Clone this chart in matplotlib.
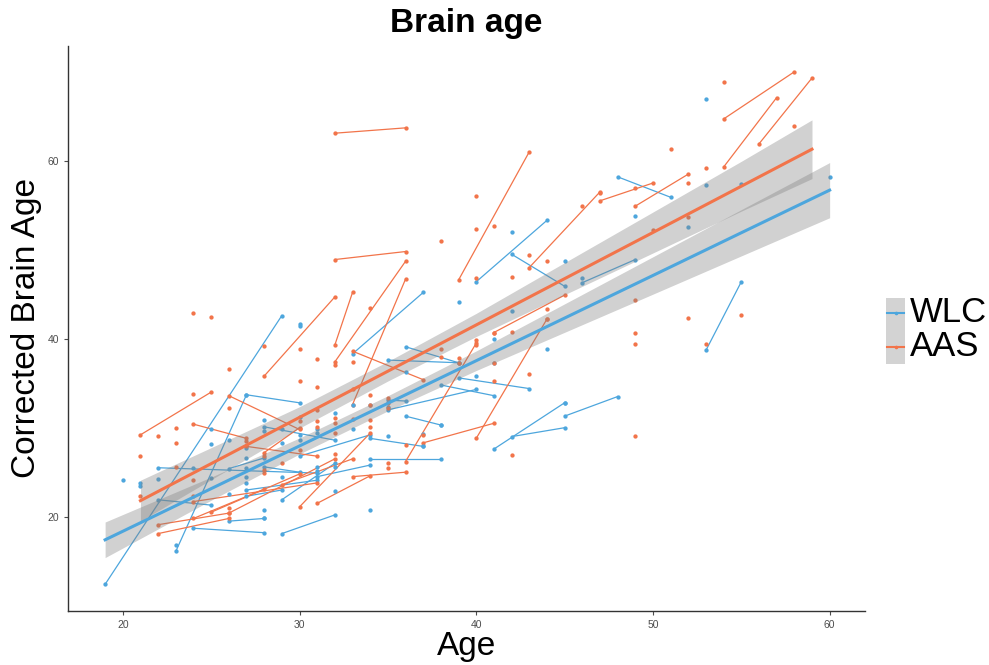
import numpy as np
import matplotlib
matplotlib.use("Agg")
import matplotlib.pyplot as plt
from matplotlib.patches import Rectangle
from matplotlib.lines import Line2D

plt.rcParams['font.family'] = ['Liberation Sans', 'DejaVu Sans']

BLUE = '#4DA6DD'
ORANGE = '#F2744A'

# WLC: paired observations (first visit -> second visit)
wlc_age1 = [19, 22, 22, 23, 24, 29, 27, 28, 29, 31, 34, 34, 33, 36, 35, 39, 38, 35,
            40, 42, 41, 42, 45, 48, 46, 53, 26, 27, 27, 30, 28, 36, 26, 35]
wlc_brain1 = [12.4, 25.5, 21.9, 16.1, 18.7, 18.1, 33.7, 30.1, 21.9, 24.5, 28.8, 26.5, 38.3,
              39.1, 37.6, 35.6, 34.8, 32.0, 46.4, 49.5, 27.6, 29.0, 31.3, 58.2, 46.3, 38.7,
              25.4, 23.0, 22.3, 26.8, 25.6, 31.3, 19.5, 33.1]
wlc_age2 = [29, 31, 25, 27, 28, 32, 30, 32, 32, 34, 37, 38, 37, 39, 39, 43, 41, 40,
            44, 45, 45, 45, 48, 51, 49, 55, 28, 31, 29, 34, 30, 38, 28, 36]
wlc_brain2 = [42.6, 24.9, 21.3, 33.7, 18.2, 20.2, 32.8, 28.6, 26.0, 25.8, 27.9, 26.5, 45.2,
              37.3, 37.3, 34.4, 33.6, 34.3, 53.3, 45.9, 32.8, 30.0, 33.5, 55.9, 48.9, 46.4,
              26.6, 24.1, 23.0, 29.2, 25.0, 30.3, 19.8, 33.0]
# WLC: single observations
wlc_only_age = [20, 21, 21, 22, 23, 25, 25, 26, 27, 27, 27, 27, 27, 28, 28, 28, 28, 29, 29,
                30, 30, 30, 31, 31, 31, 31, 32, 32, 34, 35, 35, 36, 37, 37, 39, 40, 41, 41,
                42, 42, 44, 45, 45, 46, 49, 52, 53, 53, 55, 60, 30, 38, 24, 25, 26, 29, 33,
                34, 30, 32, 33]
wlc_only_brain = [24.1, 23.8, 23.5, 24.2, 16.8, 29.8, 28.2, 28.6, 27.7, 26.6, 25.5, 24.5, 23.8,
                  30.9, 29.6, 19.8, 20.8, 29.9, 28.3, 29.2, 28.6, 41.6, 29.9, 29.4, 25.6, 25.1,
                  22.9, 25.6, 20.8, 29.1, 32.3, 36.3, 29.3, 28.0, 44.1, 35.8, 37.3, 40.0, 52.0,
                  43.1, 38.9, 48.7, 32.8, 46.8, 53.8, 52.6, 57.3, 66.9, 57.4, 58.2, 41.4, 30.3,
                  25.5, 24.3, 22.5, 24.5, 29.8, 32.5, 31.2, 31.7, 32.6]

# AAS: paired observations
aas_age1 = [32, 32, 32, 33, 32, 28, 33, 39, 43, 41, 36, 40, 37, 47, 49, 54, 54, 56, 21,
            24, 26, 22, 22, 24, 25, 26, 24, 30, 31, 33, 28, 29, 27]
aas_brain1 = [63.1, 48.9, 37.4, 32.6, 39.3, 35.8, 38.6, 46.6, 48.0, 40.7, 26.2, 28.8, 28.3,
              55.5, 54.9, 64.7, 59.3, 61.9, 29.2, 30.4, 33.6, 19.1, 18.1, 19.8, 20.5, 20.4,
              21.7, 21.1, 21.5, 24.5, 27.2, 23.6, 27.9]
aas_age2 = [36, 36, 36, 36, 33, 32, 37, 43, 47, 45, 40, 44, 41, 50, 52, 58, 57, 59, 25,
            27, 30, 26, 26, 28, 30, 32, 31, 34, 34, 36, 30, 33, 31]
aas_brain2 = [63.7, 49.8, 48.7, 46.7, 45.2, 44.7, 35.4, 61.0, 56.5, 44.9, 39.5, 42.2, 30.5,
              57.5, 58.5, 70.0, 67.1, 69.3, 34.0, 28.8, 29.8, 20.4, 19.8, 23.1, 24.8, 26.5,
              23.8, 29.4, 24.6, 25.0, 30.0, 26.5, 26.8]
# AAS: single observations
aas_only_age = [21, 21, 22, 23, 23, 23, 24, 24, 25, 24, 24, 26, 26, 26, 27, 27, 28, 28, 28,
                28, 30, 30, 30, 31, 31, 31, 31, 31, 32, 32, 32, 32, 33, 33, 34, 34, 34, 34,
                34, 35, 35, 35, 35, 35, 36, 37, 38, 38, 38, 39, 39, 40, 40, 40, 40, 40, 41,
                41, 41, 41, 42, 42, 42, 43, 43, 44, 44, 44, 46, 47, 49, 49, 49, 49, 49, 51,
                52, 52, 53, 53, 54, 55, 58, 50, 52, 32, 29, 30, 33]
aas_only_brain = [26.8, 22.3, 29.1, 30.0, 28.3, 25.6, 33.8, 42.9, 42.4, 24.1, 22.3, 36.6, 32.2,
                  21.0, 28.5, 27.9, 39.2, 26.8, 25.3, 24.9, 38.9, 35.3, 30.7, 37.7, 34.6, 32.0,
                  30.7, 30.1, 37.0, 31.1, 30.5, 29.4, 37.4, 34.4, 43.5, 33.7, 32.6, 30.9, 30.1,
                  33.3, 32.8, 32.2, 26.0, 25.5, 28.1, 29.2, 38.9, 38.0, 51.0, 37.8, 37.3, 56.0,
                  52.3, 46.8, 39.9, 39.3, 52.7, 37.3, 35.2, 40.7, 46.9, 40.8, 26.9, 49.4, 36.0,
                  48.7, 43.3, 42.2, 54.9, 56.4, 56.9, 44.4, 40.7, 39.4, 29.1, 61.3, 57.5, 42.3,
                  59.2, 39.4, 68.9, 42.7, 63.9, 52.2, 53.7, 27.0, 26.0, 27.5, 31.0]

# linear fits with confidence bands
wlc_fit_age = [19, 25, 30, 35, 40, 45, 50, 55, 60]
wlc_fit = [17.4, 23.15, 27.95, 32.74, 37.53, 42.32, 47.11, 51.91, 56.7]
wlc_lo = [15.4, 21.85, 27.05, 31.89, 36.43, 40.72, 45.01, 49.31, 53.6]
wlc_hi = [19.4, 24.45, 28.85, 33.59, 38.63, 43.92, 49.21, 54.51, 59.8]

aas_fit_age = [21, 25, 30, 35, 40, 45, 50, 55, 59]
aas_fit = [21.8, 25.96, 31.16, 36.35, 41.55, 46.75, 51.94, 57.14, 61.3]
aas_lo = [19.5, 24.16, 29.96, 35.25, 40.25, 44.95, 49.64, 54.34, 58.0]
aas_hi = [24.1, 27.76, 32.36, 37.45, 42.85, 48.55, 54.24, 59.94, 64.6]

fig = plt.figure(figsize=(9.89, 6.65), dpi=100)
ax = fig.add_axes([68/989, 54/665, 797/989, 565/665])

for a1, b1, a2, b2, col in [(wlc_age1, wlc_brain1, wlc_age2, wlc_brain2, BLUE),
                            (aas_age1, aas_brain1, aas_age2, aas_brain2, ORANGE)]:
    for i in range(len(a1)):
        ax.plot([a1[i], a2[i]], [b1[i], b2[i]], color=col, lw=0.9, zorder=2)
        ax.plot([a1[i], a2[i]], [b1[i], b2[i]], 'o', color=col, ms=3.1, mew=0, zorder=3)

ax.plot(wlc_only_age, wlc_only_brain, 'o', color=BLUE, ms=3.1, mew=0, zorder=3)
ax.plot(aas_only_age, aas_only_brain, 'o', color=ORANGE, ms=3.1, mew=0, zorder=3)

ax.fill_between(wlc_fit_age, wlc_lo, wlc_hi, color='#808080', alpha=0.36, lw=0, zorder=4)
ax.fill_between(aas_fit_age, aas_lo, aas_hi, color='#808080', alpha=0.36, lw=0, zorder=4)
ax.plot(wlc_fit_age, wlc_fit, color=BLUE, lw=2.2, zorder=5)
ax.plot(aas_fit_age, aas_fit, color=ORANGE, lw=2.2, zorder=5)

ax.set_xlim(16.9, 62.0)
ax.set_ylim(9.4, 72.9)
ax.set_xticks([20, 30, 40, 50, 60])
ax.set_yticks([20, 40, 60])
for s in ['top', 'right']:
    ax.spines[s].set_visible(False)
for s in ['left', 'bottom']:
    ax.spines[s].set_color('#333333')
    ax.spines[s].set_linewidth(1.0)
ax.tick_params(colors='#4D4D4D', labelsize=7.5, length=3, width=0.8)

ax.set_title('Brain age', fontsize=24, fontweight='bold', pad=10)
ax.set_xlabel('Age', fontsize=24, labelpad=1)
ax.set_ylabel('Corrected Brain Age', fontsize=24, labelpad=4)

# legend drawn manually (ggplot style keys)
fig.add_artist(Rectangle((886/989, 1 - 364/665), 19/989, 66/665,
                         transform=fig.transFigure, color='#D3D3D3', lw=0))
for y, col, lab in [(313, BLUE, 'WLC'), (347, ORANGE, 'AAS')]:
    yf = 1 - y/665
    fig.add_artist(Line2D([887/989, 904/989], [yf, yf], transform=fig.transFigure,
                          color=col, lw=1.5))
    fig.add_artist(Line2D([895.5/989], [yf], transform=fig.transFigure, marker='o',
                          color=col, ms=2.6, mew=0))
    fig.text(910/989, yf, lab, fontsize=25, va='center', ha='left')

fig.savefig('out.png', dpi=100)
